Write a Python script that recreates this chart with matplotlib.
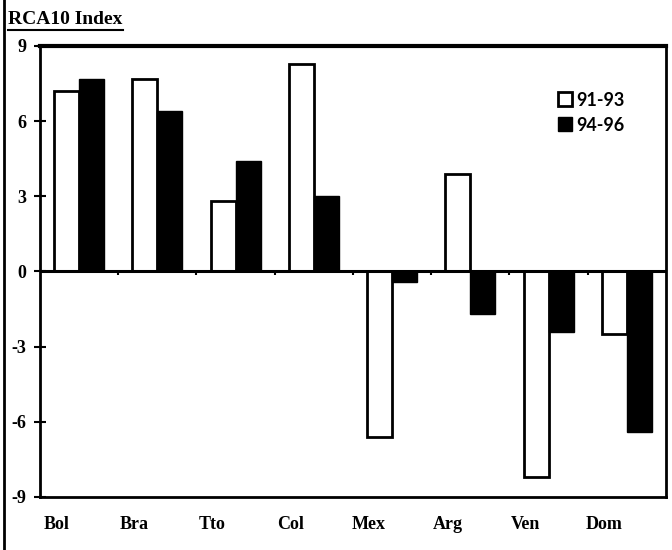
import matplotlib
matplotlib.use("Agg")
from matplotlib import pyplot as plt
from matplotlib.lines import Line2D
import matplotlib.transforms as mtrans
import numpy as np

# data
countries = ["Bol", "Bra", "Tto", "Col", "Mex", "Arg", "Ven", "Dom"]
rca_9193 = [7.2, 7.7, 2.8, 8.3, -6.6, 3.9, -8.2, -2.5]
rca_9496 = [7.7, 6.4, 4.4, 3.0, -0.4, -1.7, -2.4, -6.4]
yticks = [-9, -6, -3, 0, 3, 6, 9]

serif = "Liberation Serif"

fig = plt.figure(figsize=(6.72, 5.5), dpi=100)
ax = fig.add_axes([0.0595, 0.0964, 0.9315, 0.82])

x = np.arange(len(countries))
w = 0.32
ax.bar(x - w / 2, rca_9193, w, color="white", edgecolor="black", linewidth=2, zorder=2)
ax.bar(x + w / 2, rca_9496, w, color="black", edgecolor="black", linewidth=1, zorder=2)

ax.axhline(0, color="black", lw=2.2, zorder=3)
# small ticks on the zero line between groups
ax.vlines(x[:-1] + 0.5, -0.15, 0, color="black", lw=1.5, zorder=3)

ax.set_xlim(-0.5, len(countries) - 0.5)
ax.set_ylim(-9, 9)
ax.set_yticks(yticks)
ax.set_yticklabels([str(t) for t in yticks], fontfamily=serif, fontweight="bold", fontsize=13)
ax.tick_params(axis="y", direction="inout", length=8, width=1.5, pad=6)

ax.set_xticks(x)
ax.set_xticklabels(countries, fontfamily=serif, fontweight="bold", fontsize=13)
ax.tick_params(axis="x", length=0, pad=14)
shift = mtrans.ScaledTranslation(-23 / 100, 0, fig.dpi_scale_trans)
for lab in ax.get_xticklabels():
    lab.set_transform(lab.get_transform() + shift)

for s in ["left", "right", "bottom"]:
    ax.spines[s].set_linewidth(2)
ax.spines["top"].set_linewidth(3)

handles = [
    Line2D([], [], marker="s", ls="", markersize=10, markerfacecolor="white",
           markeredgecolor="black", markeredgewidth=2),
    Line2D([], [], marker="s", ls="", markersize=10, markerfacecolor="black",
           markeredgecolor="black"),
]
ax.legend(handles, ["91-93", "94-96"], loc="upper right", bbox_to_anchor=(0.96, 0.935),
          frameon=False, handlelength=0.8, handletextpad=0.2, labelspacing=0.45,
          prop={"family": "Lato", "weight": "bold", "size": 13})

fig.text(0.012, 0.965, "RCA10 Index", fontfamily=serif, fontweight="bold", fontsize=14,
         ha="left", va="center")
fig.add_artist(Line2D([0.012, 0.183], [0.945, 0.945], color="black", lw=1.5,
                      transform=fig.transFigure))
# left border of the scanned frame
fig.add_artist(Line2D([0.006, 0.006], [0, 1], color="black", lw=2, transform=fig.transFigure))

fig.savefig("out.png", dpi=100)
